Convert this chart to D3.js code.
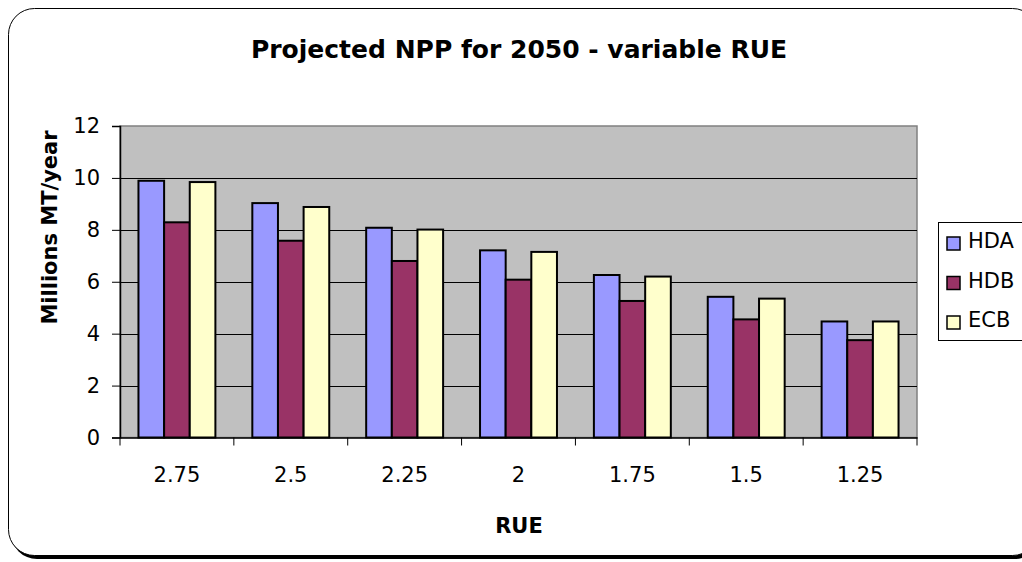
<!DOCTYPE html>
<html>
<head>
<meta charset="utf-8">
<script src="https://cdn.jsdelivr.net/npm/d3@7"></script>
<style>
body { margin: 0; background: #fff; }
svg { display: block; font-family: "DejaVu Sans", Arial, sans-serif; }
</style>
</head>
<body>
<div class="chart"></div>
<script>
var width = 1022, height = 562;
var font = "'DejaVu Sans', Arial, sans-serif";

// values
var categories = ["2.75", "2.5", "2.25", "2", "1.75", "1.5", "1.25"];
var seriesNames = ["HDA", "HDB", "ECB"];
var seriesColors = ["#9999ff", "#993366", "#ffffcc"];
var hda = [9.89, 9.03, 8.08, 7.21, 6.26, 5.42, 4.47];
var hdb = [8.29, 7.58, 6.80, 6.08, 5.26, 4.55, 3.75];
var ecb = [9.84, 8.88, 8.01, 7.15, 6.20, 5.35, 4.47];
var yTicks = [0, 2, 4, 6, 8, 10, 12];

var series = [hda, hdb, ecb];

var svg = d3.select(".chart").append("svg")
  .attr("width", width)
  .attr("height", height);

// frame with shadow
svg.append("rect")
  .attr("x", 11).attr("y", 12)
  .attr("width", 1030).attr("height", 547)
  .attr("rx", 26).attr("ry", 26)
  .attr("fill", "#000");
svg.append("rect")
  .attr("x", 8.5).attr("y", 8.5)
  .attr("width", 1030).attr("height", 547)
  .attr("rx", 26).attr("ry", 26)
  .attr("fill", "#fff")
  .attr("stroke", "#000")
  .attr("stroke-width", 1);

var plot = { left: 120, right: 917, top: 126, bottom: 437.5 };

var x = d3.scaleBand()
  .domain(categories)
  .range([plot.left, plot.right]);

var y = d3.scaleLinear()
  .domain([0, 12])
  .range([plot.bottom, plot.top]);

var inner = d3.scaleBand()
  .domain(d3.range(series.length))
  .range([0, x.bandwidth()])
  .paddingOuter(0.72)
  .paddingInner(0);

// plot background
svg.append("rect")
  .attr("x", plot.left).attr("y", plot.top)
  .attr("width", plot.right - plot.left)
  .attr("height", plot.bottom - plot.top)
  .attr("fill", "#c0c0c0")
  .attr("stroke", "#808080")
  .attr("stroke-width", 1.5);

// gridlines
svg.append("g")
  .selectAll("line")
  .data(yTicks.filter(function(d) { return d > 0 && d < 12; }))
  .enter().append("line")
  .attr("x1", plot.left).attr("x2", plot.right)
  .attr("y1", function(d) { return Math.round(y(d)) + 0.5; })
  .attr("y2", function(d) { return Math.round(y(d)) + 0.5; })
  .attr("stroke", "#000")
  .attr("stroke-width", 1);

// bars
var groups = svg.append("g")
  .selectAll("g")
  .data(categories)
  .enter().append("g")
  .attr("transform", function(d) { return "translate(" + x(d) + ",0)"; });

groups.selectAll("rect")
  .data(function(d, i) {
    return series.map(function(s, j) { return { k: j, v: s[i] }; });
  })
  .enter().append("rect")
  .attr("x", function(d) { return inner(d.k); })
  .attr("y", function(d) { return y(d.v); })
  .attr("width", inner.bandwidth())
  .attr("height", function(d) { return y(0) - y(d.v); })
  .attr("fill", function(d) { return seriesColors[d.k]; })
  .attr("stroke", "#000")
  .attr("stroke-width", 2);

// y axis
var yAxis = svg.append("g")
  .attr("transform", "translate(" + plot.left + ",0)")
  .call(d3.axisLeft(y).tickValues(yTicks).tickSize(8).tickPadding(12));
yAxis.select(".domain").attr("stroke", "#000").attr("stroke-width", 1.5);
yAxis.selectAll("text").attr("font-size", "21px").attr("fill", "#000")
  .attr("font-family", font);

// x axis
var xAxis = svg.append("g")
  .attr("transform", "translate(0," + plot.bottom + ")")
  .call(d3.axisBottom(x).tickSize(0));
xAxis.select(".domain").attr("stroke", "#000").attr("stroke-width", 1.5);
xAxis.selectAll("text").attr("font-size", "21px").attr("fill", "#000")
  .attr("font-family", font)
  .attr("y", 44.5).attr("dy", 0);
xAxis.selectAll(".sep")
  .data(categories.concat(["end"]))
  .enter().append("line")
  .attr("class", "sep")
  .attr("x1", function(d, i) { return plot.left + i * x.step(); })
  .attr("x2", function(d, i) { return plot.left + i * x.step(); })
  .attr("y1", 0).attr("y2", 8)
  .attr("stroke", "#000");

// title and axis titles
svg.append("text")
  .attr("x", 519).attr("y", 58)
  .attr("text-anchor", "middle")
  .attr("font-size", "25px")
  .attr("font-weight", "bold")
  .text("Projected NPP for 2050 - variable RUE");

svg.append("text")
  .attr("x", 519).attr("y", 533)
  .attr("text-anchor", "middle")
  .attr("font-size", "21px")
  .attr("font-weight", "bold")
  .text("RUE");

svg.append("text")
  .attr("transform", "translate(57,227.5) rotate(-90)")
  .attr("text-anchor", "middle")
  .attr("font-size", "21px")
  .attr("font-weight", "bold")
  .text("Millions MT/year");

// legend
var legend = svg.append("g").attr("transform", "translate(938,222)");
legend.append("rect")
  .attr("x", 0.5).attr("y", 0.5)
  .attr("width", 100).attr("height", 118)
  .attr("fill", "#fff")
  .attr("stroke", "#000")
  .attr("stroke-width", 1);

var items = legend.selectAll(".item")
  .data(seriesNames)
  .enter().append("g")
  .attr("class", "item")
  .attr("transform", function(d, i) { return "translate(0," + (26 + i * 39.5) + ")"; });
items.append("rect")
  .attr("x", 9).attr("y", -11)
  .attr("width", 13).attr("height", 13)
  .attr("fill", function(d, i) { return seriesColors[i]; })
  .attr("stroke", "#000")
  .attr("stroke-width", 1.5);
items.append("text")
  .attr("x", 30).attr("y", 0)
  .attr("font-size", "21px")
  .text(function(d) { return d; });
</script>
</body>
</html>
